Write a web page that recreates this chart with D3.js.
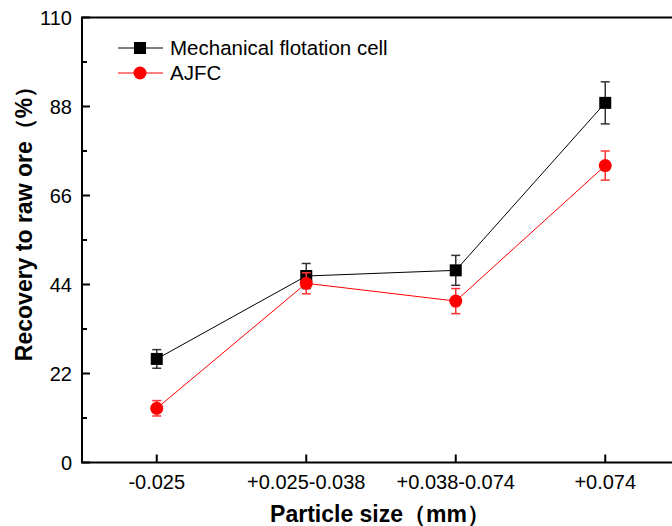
<!DOCTYPE html>
<html lang="en">
<head>
  <meta charset="UTF-8">
  <title>Recovery to raw ore by particle size</title>
  <style>
    body { margin: 0; background: #fff; }
    text { font-family: "Liberation Sans", Arial, sans-serif; }
  </style>
</head>
<body>
  <script src="https://d3js.org/d3.v7.min.js"></script>
  <script>
    // data
    const categories = ["-0.025", "+0.025-0.038", "+0.038-0.074", "+0.074"];
    const mechValues = [25.6, 46.1, 47.5, 88.9];
    const mechErrors = [2.3, 3.1, 3.7, 5.2];
    const ajfcValues = [13.4, 44.3, 39.9, 73.4];
    const ajfcErrors = [1.9, 2.6, 3.1, 3.6];
    const yTicks = [0, 22, 44, 66, 88, 110];

    const svgWidth = 672, svgHeight = 526;
    const margin = { top: 17.5, left: 82 };
    const plotH = 445;

    const svg = d3.select('body').append('svg')
      .attr('width', svgWidth)
      .attr('height', svgHeight);

    // category index 1..4, frame from 0.5 to 4.5
    const xScale = d3.scaleLinear().domain([0.5, 4.5]).range([82, 82 + 4 * 149.5]);
    const yScale = d3.scaleLinear().domain([0, 110]).range([margin.top + plotH, margin.top]);

    // frame lines (left, bottom, top)
    const frame = svg.append('g').attr('stroke', '#000').attr('stroke-width', 2).attr('fill', 'none');
    frame.append('line').attr('x1', xScale(0.5)).attr('x2', xScale(0.5)).attr('y1', yScale(0)).attr('y2', yScale(110));
    frame.append('line').attr('x1', xScale(0.5) - 1).attr('x2', xScale(4.5)).attr('y1', yScale(0)).attr('y2', yScale(0));
    frame.append('line').attr('x1', xScale(0.5) - 1).attr('x2', xScale(4.5)).attr('y1', yScale(110)).attr('y2', yScale(110));

    // y axis ticks (inward) + labels
    const yAxis = svg.append('g');
    yTicks.forEach(t => {
      yAxis.append('line').attr('x1', xScale(0.5)).attr('x2', xScale(0.5) + 8)
        .attr('y1', yScale(t)).attr('y2', yScale(t)).attr('stroke', '#000').attr('stroke-width', 2);
      yAxis.append('text').attr('x', 72).attr('y', yScale(t)).attr('dy', '0.35em')
        .attr('text-anchor', 'end').attr('font-size', 20).text(t);
    });
    d3.range(11, 110, 22).forEach(t => {
      yAxis.append('line').attr('x1', xScale(0.5)).attr('x2', xScale(0.5) + 5)
        .attr('y1', yScale(t)).attr('y2', yScale(t)).attr('stroke', '#000').attr('stroke-width', 2);
    });

    // x axis ticks (inward) + labels
    const xAxis = svg.append('g');
    categories.forEach((c, i) => {
      xAxis.append('line').attr('x1', xScale(i + 1)).attr('x2', xScale(i + 1))
        .attr('y1', yScale(0)).attr('y2', yScale(0) - 8).attr('stroke', '#000').attr('stroke-width', 2);
      xAxis.append('text').attr('x', xScale(i + 1)).attr('y', 489)
        .attr('text-anchor', 'middle').attr('font-size', 20).text(c);
    });

    // axis titles
    svg.append('text').attr('x', 380).attr('y', 522).attr('text-anchor', 'middle')
      .attr('font-size', 23).attr('font-weight', 'bold').text('Particle size（mm）');
    svg.append('text').attr('transform', 'translate(32,218) rotate(-90)')
      .attr('text-anchor', 'middle').attr('font-size', 23).attr('font-weight', 'bold')
      .text('Recovery to raw ore（%）');

    const series = [
      { name: 'Mechanical flotation cell', values: mechValues, errors: mechErrors, color: '#000', errColor: '#333', shape: 'square' },
      { name: 'AJFC', values: ajfcValues, errors: ajfcErrors, color: '#ff0000', errColor: '#ff3333', shape: 'circle' }
    ];

    const line = d3.line().x((d, i) => xScale(i + 1)).y(d => yScale(d));

    function drawMarker(g, s, x, y) {
      if (s.shape === 'square') {
        g.append('rect').attr('x', x - 6).attr('y', y - 6).attr('width', 12).attr('height', 12).attr('fill', s.color);
      } else {
        g.append('circle').attr('cx', x).attr('cy', y).attr('r', 6.5).attr('fill', s.color);
      }
    }

    series.forEach(s => {
      const g = svg.append('g');
      g.append('path').datum(s.values).attr('d', line)
        .attr('fill', 'none').attr('stroke', s.color).attr('stroke-width', 1);
      s.values.forEach((v, i) => {
        const x = xScale(i + 1);
        const y0 = yScale(v - s.errors[i]), y1 = yScale(v + s.errors[i]);
        g.append('line').attr('x1', x).attr('x2', x).attr('y1', y0).attr('y2', y1)
          .attr('stroke', s.errColor).attr('stroke-width', 1.5);
        [y0, y1].forEach(yy => {
          g.append('line').attr('x1', x - 4.5).attr('x2', x + 4.5).attr('y1', yy).attr('y2', yy)
            .attr('stroke', s.errColor).attr('stroke-width', 1.5);
        });
        drawMarker(g, s, x, yScale(v));
      });
    });

    // legend
    const legend = svg.append('g');
    series.forEach((s, i) => {
      const y = 48 + i * 25;
      legend.append('line').attr('x1', 118).attr('x2', 163).attr('y1', y).attr('y2', y)
        .attr('stroke', s.color).attr('stroke-width', 1);
      drawMarker(legend, s, 140, y);
      legend.append('text').attr('x', 170).attr('y', y).attr('dy', '0.35em')
        .attr('font-size', 20.5).text(s.name);
    });
  </script>
</body>
</html>
